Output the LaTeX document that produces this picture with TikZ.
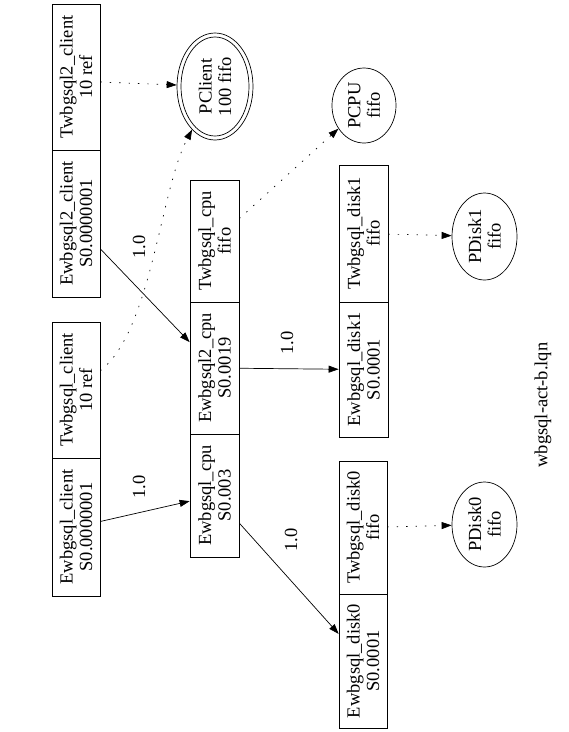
\documentclass[tikz,border=0pt]{standalone}
\usepackage{fontspec}
\setmainfont{Liberation Serif}
\usetikzlibrary{arrows.meta,shapes.geometric}
\begin{document}
\begin{tikzpicture}[x=1pt,y=-1pt,
  lqfont/.style={font=\fontsize{18.5}{19.5}\selectfont},
  comp/.style={draw,rectangle,rotate=90,inner sep=0pt,align=center,lqfont,line width=0.7pt},
  proc/.style={draw,ellipse,rotate=90,inner sep=0pt,align=center,lqfont,line width=0.7pt},
  lbl/.style={rotate=90,inner sep=0pt,lqfont},
  call/.style={-{Triangle[length=10pt,width=7pt]},line width=0.7pt},
  fwd/.style={call,dash pattern=on 1.4pt off 8pt}
]
\useasboundingbox (0,0) rectangle (569,732);

% client tasks
\node[comp,minimum width=146pt,minimum height=48pt] (tc2) at (76,77) {Twbgsql2\_client\\10 ref};
\node[comp,minimum width=147pt,minimum height=48pt] (ec2) at (76,223.5) {Ewbgsql2\_client\\S0.0000001};
\node[comp,minimum width=136pt,minimum height=48pt] (tc) at (76,390) {Twbgsql\_client\\10 ref};
\node[comp,minimum width=138pt,minimum height=48pt] (ec) at (76,527) {Ewbgsql\_client\\S0.0000001};

% cpu task
\node[comp,minimum width=122pt,minimum height=49pt] (tcpu) at (214.5,241) {Twbgsql\_cpu\\fifo};
\node[comp,minimum width=132pt,minimum height=49pt] (ecpu2) at (214.5,368) {Ewbgsql2\_cpu\\S0.0019};
\node[comp,minimum width=123pt,minimum height=49pt] (ecpu) at (214.5,495.5) {Ewbgsql\_cpu\\S0.003};

% disk tasks
\node[comp,minimum width=137pt,minimum height=49pt] (tdisk1) at (363.5,233.5) {Twbgsql\_disk1\\fifo};
\node[comp,minimum width=135pt,minimum height=49pt] (edisk1) at (363.5,369.5) {Ewbgsql\_disk1\\S0.0001};
\node[comp,minimum width=133pt,minimum height=48pt] (tdisk0) at (363,527.5) {Twbgsql\_disk0\\fifo};
\node[comp,minimum width=134pt,minimum height=48pt] (edisk0) at (363,661) {Ewbgsql\_disk0\\S0.0001};

% processors
\node[proc,minimum width=107pt,minimum height=76pt] (pclient) at (215,86.5) {PClient\\100 fifo};
\draw[line width=0.7pt] (pclient.center) ellipse [x radius=34pt, y radius=49.5pt];
\node[proc,minimum width=75pt,minimum height=64pt] (pcpu) at (364,105.5) {PCPU\\fifo};
\node[proc,minimum width=87pt,minimum height=65pt] (pdisk1) at (484.5,236.5) {PDisk1\\fifo};
\node[proc,minimum width=85pt,minimum height=65pt] (pdisk0) at (484.5,524.5) {PDisk0\\fifo};

% title
\node[lbl] (title) at (543,405) {wbgsql-act-b.lqn};

% calls
\draw[call] (ec2) -- (ecpu2);
\draw[call] (ec) -- (ecpu);
\draw[call] (ecpu2) -- (edisk1);
\draw[call] (ecpu) -- (edisk0);
\node[lbl] (l1) at (139,247) {1.0};
\node[lbl] (l2) at (139,487) {1.0};
\node[lbl] (l3) at (287,343) {1.0};
\node[lbl] (l4) at (291,540) {1.0};

% task to processor
\draw[fwd] ([yshift=-5pt]tc2.south) -- (pclient);
\draw[fwd] (tc) .. controls (152,330) and (160,190) .. (pclient);
\draw[fwd] (tcpu) -- (pcpu);
\draw[fwd] (tdisk1) -- (pdisk1);
\draw[fwd] (tdisk0) -- (pdisk0);
\end{tikzpicture}
\end{document}
